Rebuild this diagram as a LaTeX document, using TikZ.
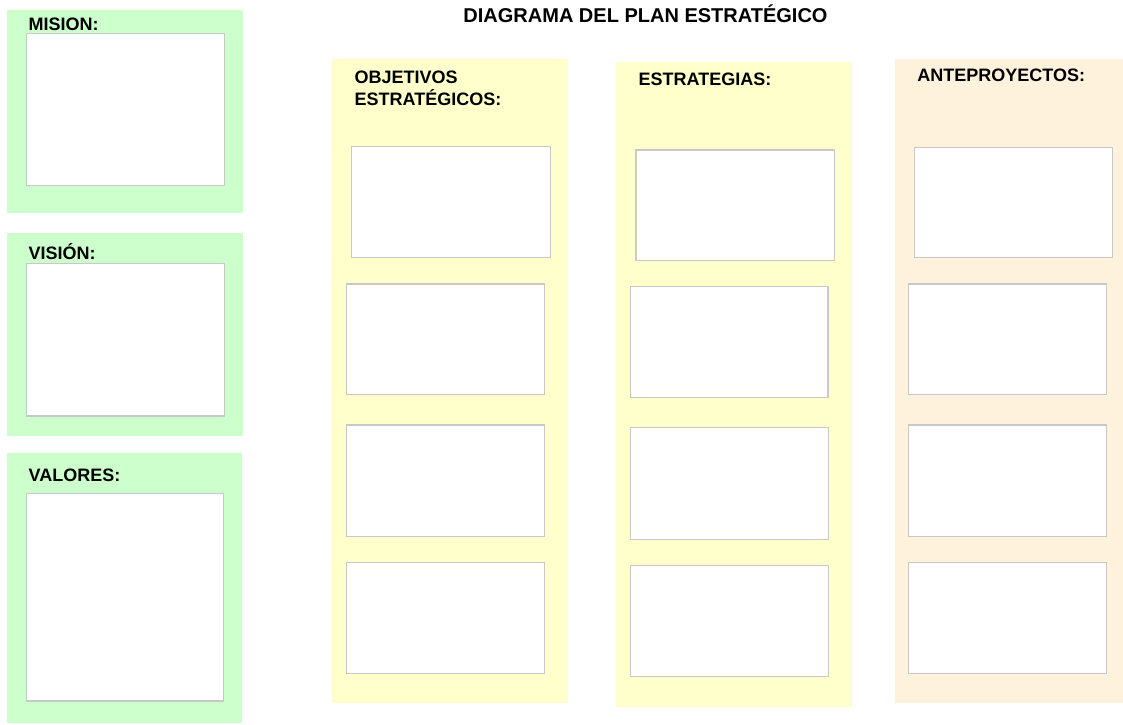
\documentclass[tikz,border=0pt]{standalone}
\usepackage{fontspec}
\setmainfont{Liberation Sans}
\definecolor{pgreen}{RGB}{204,255,204}
\definecolor{pyellow}{RGB}{255,255,204}
\definecolor{porange}{RGB}{255,242,220}
\definecolor{boxline}{RGB}{200,200,200}
\begin{document}
\begin{tikzpicture}[x=1pt,y=-1pt,
  panel/.style={anchor=north west,inner sep=0pt,outer sep=0pt,draw=none},
  wbox/.style={anchor=north west,inner sep=0pt,outer sep=0pt,fill=white,draw=boxline,line width=1.3pt},
  lbl/.style={anchor=base west,inner sep=0pt,font=\bfseries\fontsize{18}{21.7}\selectfont},
  ttl/.style={anchor=base,inner sep=0pt,font=\bfseries\fontsize{20}{24}\selectfont}]
\useasboundingbox (0,0) rectangle (1123,724);
% title
\node[ttl] (title) at (645.5,22.3) {DIAGRAMA DEL PLAN ESTRATÉGICO};
% left panels
\node[panel,fill=pgreen,minimum width=236pt,minimum height=202.5pt] (pmis) at (7,10) {};
\node[wbox,minimum width=197.5pt,minimum height=152.3pt] (bmis) at (26.7,33.5) {};
\node[lbl] (lmis) at (28.5,30) {MISION:};
\node[panel,fill=pgreen,minimum width=236pt,minimum height=203pt] (pvis) at (7,233.3) {};
\node[wbox,minimum width=197.5pt,minimum height=152.7pt] (bvis) at (26.7,263.3) {};
\node[lbl] (lvis) at (28.5,259.3) {VISIÓN:};
\node[panel,fill=pgreen,minimum width=235.3pt,minimum height=270.7pt] (pval) at (7,452.7) {};
\node[wbox,minimum width=197pt,minimum height=207.7pt] (bval) at (26.7,493.3) {};
\node[lbl] (lval) at (28.5,481.7) {VALORES:};
% column 1
\node[panel,fill=pyellow,minimum width=236pt,minimum height=644pt] (pobj) at (332.3,59.3) {};
\node[lbl] (lobja) at (354.5,83.3) {OBJETIVOS};
\node[lbl] (lobjb) at (354.5,105) {ESTRATÉGICOS:};
\node[wbox,minimum width=199pt,minimum height=111pt] (o1) at (351.7,146.7) {};
\node[wbox,minimum width=197.7pt,minimum height=110.3pt] (o2) at (346.7,284) {};
\node[wbox,minimum width=197.7pt,minimum height=111.7pt] (o3) at (346.7,425) {};
\node[wbox,minimum width=197.7pt,minimum height=110.6pt] (o4) at (346.7,562.7) {};
% column 2
\node[panel,fill=pyellow,minimum width=236.3pt,minimum height=644.4pt] (pest) at (616,62.3) {};
\node[lbl] (lest) at (638.5,85) {ESTRATEGIAS:};
\node[wbox,minimum width=198.3pt,minimum height=110.7pt] (e1) at (636,150) {};
\node[wbox,minimum width=197.3pt,minimum height=110.6pt] (e2) at (630.7,286.7) {};
\node[wbox,minimum width=197.7pt,minimum height=111.6pt] (e3) at (630.7,427.7) {};
\node[wbox,minimum width=197.7pt,minimum height=111pt] (e4) at (630.7,565.7) {};
% column 3
\node[panel,fill=porange,minimum width=228pt,minimum height=644pt] (pant) at (895,59.3) {};
\node[lbl] (lant) at (917.2,81.7) {ANTEPROYECTOS:};
\node[wbox,minimum width=198pt,minimum height=110.4pt] (a1) at (914.3,147.3) {};
\node[wbox,minimum width=198pt,minimum height=110.3pt] (a2) at (908.7,284) {};
\node[wbox,minimum width=198pt,minimum height=111.7pt] (a3) at (908.7,425) {};
\node[wbox,minimum width=198pt,minimum height=110.6pt] (a4) at (908.7,562.7) {};
\end{tikzpicture}
\end{document}
